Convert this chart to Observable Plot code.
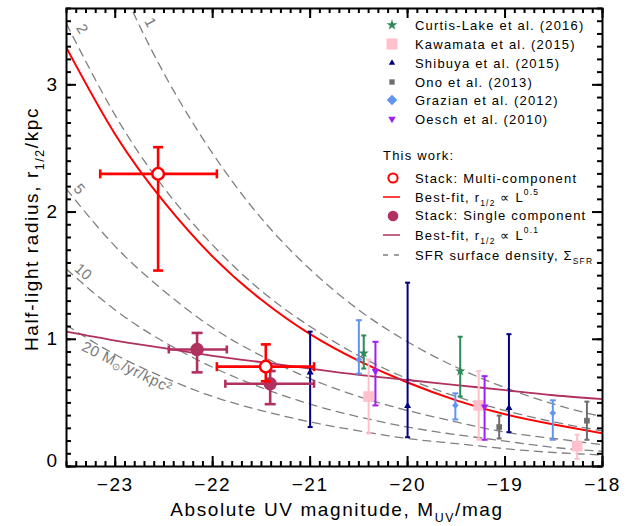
<!DOCTYPE html>
<html>
<head>
<meta charset="utf-8">
<script src="https://cdn.jsdelivr.net/npm/d3@7"></script>
<script src="https://cdn.jsdelivr.net/npm/@observablehq/plot@0.6"></script>
<style>
html,body{margin:0;padding:0;background:#fff;}
#chart svg{display:block;}
</style>
</head>
<body>
<div id="chart"></div>
<script>
const FONT = "'Liberation Sans', Arial, Helvetica, sans-serif";

// ---- axis ticks ----
const xMajorTicks = [-23, -22, -21, -20, -19, -18];
const yMajorTicks = [0, 1, 2, 3];

// ---- curves (at these magnitudes) ----
const curveMag   = [-23.5,-23,-22.5,-22,-21.5,-21,-20.5,-20,-19.5,-19,-18.5,-18];
const fitMultiR  = [3.29,2.61,2.08,1.65,1.31,1.04,0.83,0.66,0.52,0.41,0.33,0.26];
const fitSingleR = [1.06,0.99,0.93,0.87,0.82,0.77,0.72,0.68,0.64,0.60,0.56,0.53];
const sfrLevels  = [1, 2, 5, 10, 20];
const sfr1R  = [4.90,3.89,3.09,2.46,1.95,1.55,1.23,0.98,0.78,0.62,0.49,0.39];
const sfr2R  = [3.48,2.76,2.19,1.74,1.38,1.10,0.87,0.69,0.55,0.44,0.35,0.28];
const sfr5R  = [2.18,1.73,1.38,1.09,0.87,0.69,0.55,0.44,0.35,0.27,0.22,0.17];
const sfr10R = [1.55,1.23,0.98,0.78,0.62,0.49,0.39,0.31,0.25,0.20,0.15,0.12];
const sfr20R = [1.11,0.88,0.70,0.55,0.44,0.35,0.28,0.22,0.18,0.14,0.11,0.09];
const sfrLabelText  = ["1", "2", "5", "10", "20 M⊙/yr/kpc²"];
const sfrLabelMag   = [-22.64, -23.34, -23.37, -23.33, -22.88];
const sfrLabelR     = [3.49, 3.44, 2.18, 1.53, 0.78];
const sfrLabelAngle = [62, 60, 50, 41, 26];

// ---- This work ----
const multiM   = [-22.56, -21.455];
const multiR   = [2.30, 0.785];
const multiRLo = [1.54, 0.67];
const multiRHi = [2.51, 0.96];
const multiMLo = [-23.154, -21.957];
const multiMHi = [-21.957, -20.96];

const singleM   = [-22.16, -21.41];
const singleR   = [0.92, 0.65];
const singleRLo = [0.74, 0.49];
const singleRHi = [1.05, 0.75];
const singleMLo = [-22.45, -21.87];
const singleMHi = [-21.855, -20.96];

// ---- literature ----
const curtisM = [-20.45, -19.46];
const curtisR = [0.89, 0.75];
const curtisLo = [0.77, 0.55];
const curtisHi = [1.03, 1.02];

const kawamataM = [-20.40, -19.27, -18.26];
const kawamataR = [0.55, 0.48, 0.16];
const kawamataLo = [0.26, 0.21, 0.06];
const kawamataHi = [0.84, 0.75, 0.25];

const shibuyaM = [-21.0, -20.0, -18.96];
const shibuyaR = [0.74, 0.475, 0.46];
const shibuyaLo = [0.31, 0.23, 0.27];
const shibuyaHi = [1.06, 1.445, 1.04];

const onoM = [-19.06, -18.16];
const onoR = [0.31, 0.36];
const onoLo = [0.22, 0.21];
const onoHi = [0.40, 0.51];

const grazianM = [-20.50, -19.51, -18.51];
const grazianR = [0.84, 0.48, 0.42];
const grazianLo = [0.73, 0.37, 0.21];
const grazianHi = [1.15, 0.575, 0.52];

const oeschM = [-20.33, -19.21];
const oeschR = [0.75, 0.47];
const oeschLo = [0.48, 0.21];
const oeschHi = [0.98, 0.71];

// ---- colours ----
const RED = "#FF0000", MAROON = "#B03060", GREEN = "#2E8B57", PINK = "#FFC0CB",
      NAVY = "#000080", GRAY = "#6E6E6E", CORN = "#6495ED", PURPLE = "#A020F0", DASH = "#808080";

// ---- tables built from the arrays ----
const rows = (M, R, lo, hi, mlo, mhi) => M.map((m, i) => ({M: m, r: R[i], lo: lo[i], hi: hi[i], mlo: mlo ? mlo[i] : null, mhi: mhi ? mhi[i] : null}));
const curve = R => curveMag.map((m, i) => ({M: m, r: R[i]}));
const sfrCurves = [sfr1R, sfr2R, sfr5R, sfr10R, sfr20R];
const sfrRows = sfrLevels.flatMap((lv, k) => curveMag.map((m, i) => ({M: m, r: sfrCurves[k][i], level: lv})));
const sfrLabels = sfrLabelText.map((t, i) => ({text: t, M: sfrLabelMag[i], r: sfrLabelR[i], a: sfrLabelAngle[i]}));

const xMinor = d3.range(-235, -179).map(d => d / 10);
const yMinor = d3.range(0, 37).map(d => d / 10);

const capH = w => ({draw(ctx) { ctx.moveTo(-w / 2, 0); ctx.lineTo(w / 2, 0); }});
const capV = w => ({draw(ctx) { ctx.moveTo(0, -w / 2); ctx.lineTo(0, w / 2); }});

function vErr(data, color, sw, cw) {
  return [
    Plot.ruleX(data, {x: "M", y1: "lo", y2: "hi", stroke: color, strokeWidth: sw}),
    Plot.dot(data, {x: "M", y: "lo", symbol: capH(cw), stroke: color, strokeWidth: sw, fill: "none"}),
    Plot.dot(data, {x: "M", y: "hi", symbol: capH(cw), stroke: color, strokeWidth: sw, fill: "none"})
  ];
}
function hErr(data, color, sw, cw) {
  return [
    Plot.ruleY(data, {y: "r", x1: "mlo", x2: "mhi", stroke: color, strokeWidth: sw}),
    Plot.dot(data, {x: "mlo", y: "r", symbol: capV(cw), stroke: color, strokeWidth: sw, fill: "none"}),
    Plot.dot(data, {x: "mhi", y: "r", symbol: capV(cw), stroke: color, strokeWidth: sw, fill: "none"})
  ];
}

const multiRows = rows(multiM, multiR, multiRLo, multiRHi, multiMLo, multiMHi);
const singleRows = rows(singleM, singleR, singleRLo, singleRHi, singleMLo, singleMHi);
const curtisRows = rows(curtisM, curtisR, curtisLo, curtisHi);
const kawaRows = rows(kawamataM, kawamataR, kawamataLo, kawamataHi);
const shibRows = rows(shibuyaM, shibuyaR, shibuyaLo, shibuyaHi);
const onoRows = rows(onoM, onoR, onoLo, onoHi);
const grazRows = rows(grazianM, grazianR, grazianLo, grazianHi);
const oeschRows = rows(oeschM, oeschR, oeschLo, oeschHi);

// frame geometry (pixels)
const W = 644, H = 526, ML = 66, MR = 42, MT = 8, MB = 60;
const PW = W - ML - MR, PH = H - MT - MB;

// inward ticks drawn as short rules inset from the opposite side of the frame
const TW = 2;
const ticksBottom = (t, len) => Plot.ruleX(t, {x: d => d, insetTop: PH - len, stroke: "black", strokeWidth: TW});
const ticksTop    = (t, len) => Plot.ruleX(t, {x: d => d, insetBottom: PH - len, stroke: "black", strokeWidth: TW});
const ticksLeft   = (t, len) => Plot.ruleY(t, {y: d => d, insetRight: PW - len, stroke: "black", strokeWidth: TW});
const ticksRight  = (t, len) => Plot.ruleY(t, {y: d => d, insetLeft: PW - len, stroke: "black", strokeWidth: TW});
const intFmt = d => String(d);

const plot = Plot.plot({
  width: W, height: H,
  marginLeft: ML, marginRight: MR, marginTop: MT, marginBottom: MB,
  x: {domain: [-23.5, -18]},
  y: {domain: [0, 3.6]},
  style: {fontFamily: FONT, background: "white", color: "black"},
  marks: [
    Plot.line(sfrRows, {x: "M", y: "r", z: "level", stroke: DASH, strokeWidth: 1.3, strokeDasharray: "8,6", curve: "natural", clip: true}),
    Plot.text(sfrLabels, {x: "M", y: "r", text: "text", rotate: "a", fill: "#7a7a7a", fontSize: 15}),
    Plot.line(curve(fitMultiR), {x: "M", y: "r", stroke: RED, strokeWidth: 2, curve: "natural", clip: true}),
    Plot.line(curve(fitSingleR), {x: "M", y: "r", stroke: MAROON, strokeWidth: 1.8, curve: "natural", clip: true}),

    ...vErr(kawaRows, PINK, 2, 5),
    Plot.dot(kawaRows, {x: "M", y: "r", symbol: "square", r: 6, fill: PINK}),
    ...vErr(grazRows, CORN, 2, 6),
    Plot.dot(grazRows, {x: "M", y: "r", symbol: "diamond2", r: 3, fill: CORN}),
    ...vErr(curtisRows, GREEN, 2, 5),
    Plot.dot(curtisRows, {x: "M", y: "r", symbol: "star", r: 3.2, fill: GREEN}),
    ...vErr(oeschRows, PURPLE, 2, 6),
    Plot.dot(oeschRows, {x: "M", y: "r", symbol: "triangle", rotate: 180, r: 2.8, fill: PURPLE}),
    ...vErr(onoRows, GRAY, 2, 5),
    Plot.dot(onoRows, {x: "M", y: "r", symbol: "square", r: 3.2, fill: GRAY}),
    ...vErr(shibRows, NAVY, 2, 5),
    Plot.dot(shibRows, {x: "M", y: "r", symbol: "triangle", r: 2.6, fill: NAVY}),

    ...vErr(singleRows, MAROON, 2.6, 11),
    ...hErr(singleRows, MAROON, 2.6, 8),
    Plot.dot(singleRows, {x: "M", y: "r", r: 6.7, fill: MAROON}),
    ...vErr(multiRows, RED, 2.6, 10),
    ...hErr(multiRows, RED, 2.6, 9),
    Plot.dot(multiRows, {x: "M", y: "r", r: 5.8, fill: "white", stroke: RED, strokeWidth: 2.5}),

    ticksBottom(xMinor, 5), ticksBottom(xMajorTicks, 10),
    ticksTop(xMinor, 5), ticksTop(xMajorTicks, 10),
    ticksLeft(yMinor, 5), ticksLeft(yMajorTicks, 10),
    ticksRight(yMinor, 5), ticksRight(yMajorTicks, 10),
    Plot.axisX(xMajorTicks, {anchor: "bottom", tickSize: 0, tickPadding: 11, fontSize: 19, label: null}),
    Plot.axisY(yMajorTicks.filter(d => d > 0), {anchor: "left", tickSize: 0, tickPadding: 8, fontSize: 19, label: null, tickFormat: intFmt}),
    Plot.axisY(yMajorTicks.filter(d => d === 0), {anchor: "left", tickSize: 0, tickPadding: 8, fontSize: 19, label: null, dy: -6, tickFormat: intFmt}),
    Plot.frame({stroke: "black", strokeWidth: 2})
  ]
});

document.getElementById("chart").append(plot);
const svg = d3.select(plot);

// letter spacing of tick labels (IDL font is wide)
svg.selectAll("g[aria-label='x-axis tick label'], g[aria-label='y-axis tick label']").attr("letter-spacing", "1.5px");

// subscript sun symbol in the 20 Msun label
svg.selectAll("text").filter(function() { return this.textContent === "20 M⊙/yr/kpc²"; })
  .attr("letter-spacing", "0.6px")
  .each(function() {
    const t = d3.select(this);
    t.text(null);
    t.append("tspan").text("20 M");
    t.append("tspan").text("⊙").attr("font-size", 10).attr("dy", 3);
    t.append("tspan").text("/yr/kpc²").attr("dy", -3);
  });

// rich text helper
function rich(sel, parts, fs) {
  let shift = 0;
  for (const p of parts) {
    const target = p.sub ? 0.3 * fs : p.sup ? -0.5 * fs : 0;
    const ts = sel.append("tspan").text(p.t).attr("dy", target - shift);
    if (p.sub || p.sup) ts.attr("font-size", fs * 0.65);
    shift = target;
  }
}

const g = svg.append("g").attr("font-family", FONT).attr("text-anchor", "start").attr("fill", "black");

// axis titles
const xt = g.append("text").attr("x", 337).attr("y", 516).attr("text-anchor", "middle")
  .attr("font-size", 19).attr("letter-spacing", "1.6px");
rich(xt, [{t: "Absolute UV magnitude, M"}, {t: "UV", sub: true}, {t: "/mag"}], 19);
const yt = g.append("text").attr("transform", "translate(38,229) rotate(-90)").attr("text-anchor", "middle")
  .attr("font-size", 19).attr("letter-spacing", "1.6px");
rich(yt, [{t: "Half-light radius, r"}, {t: "1/2", sub: true}, {t: "/kpc"}], 19);

// legend
const LFS = 13;
const legLit = [
  {label: "Curtis-Lake et al. (2016)", sym: d3.symbolStar, r: 3.4, fill: GREEN},
  {label: "Kawamata et al. (2015)", sym: d3.symbolSquare, r: 6.2, fill: PINK},
  {label: "Shibuya et al. (2015)", sym: d3.symbolTriangle, r: 2.4, fill: NAVY},
  {label: "Ono et al. (2013)", sym: d3.symbolSquare, r: 3.0, fill: GRAY},
  {label: "Grazian et al. (2012)", sym: d3.symbolDiamond2, r: 4.8, fill: CORN},
  {label: "Oesch et al. (2010)", sym: d3.symbolTriangle, r: 2.8, fill: PURPLE, rot: 180}
];
const legY = [25, 44, 63, 82, 100, 119];
legLit.forEach((d, i) => {
  g.append("path").attr("d", d3.symbol(d.sym, Math.PI * d.r * d.r)())
    .attr("transform", `translate(392,${legY[i]}) rotate(${d.rot || 0})`).attr("fill", d.fill);
  g.append("text").attr("x", 415).attr("y", legY[i] + 4.6).attr("font-size", LFS)
    .attr("letter-spacing", "1.2px").text(d.label);
});

g.append("text").attr("x", 383).attr("y", 155.5 + 4.6).attr("font-size", LFS).attr("letter-spacing", "1.2px").text("This work:");
// multi-component
g.append("circle").attr("cx", 393).attr("cy", 178).attr("r", 4.6).attr("fill", "white").attr("stroke", RED).attr("stroke-width", 2);
g.append("text").attr("x", 415).attr("y", 178 + 4.6).attr("font-size", LFS).attr("letter-spacing", "1.2px").text("Stack: Multi-component");
g.append("line").attr("x1", 383).attr("x2", 400).attr("y1", 197).attr("y2", 197).attr("stroke", RED).attr("stroke-width", 1.5);
rich(g.append("text").attr("x", 415).attr("y", 197 + 4.6).attr("font-size", LFS).attr("letter-spacing", "1.2px"),
  [{t: "Best-fit, r"}, {t: "1/2", sub: true}, {t: " ∝ L"}, {t: "0.5", sup: true}], LFS);
// single component
g.append("circle").attr("cx", 393).attr("cy", 216).attr("r", 5.3).attr("fill", MAROON);
g.append("text").attr("x", 415).attr("y", 215 + 4.6).attr("font-size", LFS).attr("letter-spacing", "1.2px").text("Stack: Single component");
g.append("line").attr("x1", 383).attr("x2", 400).attr("y1", 235).attr("y2", 235).attr("stroke", MAROON).attr("stroke-width", 1.5);
rich(g.append("text").attr("x", 415).attr("y", 235 + 4.6).attr("font-size", LFS).attr("letter-spacing", "1.2px"),
  [{t: "Best-fit, r"}, {t: "1/2", sub: true}, {t: " ∝ L"}, {t: "0.1", sup: true}], LFS);
// SFR surface density
g.append("line").attr("x1", 383).attr("x2", 400).attr("y1", 255).attr("y2", 255).attr("stroke", DASH).attr("stroke-width", 1.3).attr("stroke-dasharray", "5,6");
rich(g.append("text").attr("x", 415).attr("y", 255 + 4.6).attr("font-size", LFS).attr("letter-spacing", "1.2px"),
  [{t: "SFR surface density, Σ"}, {t: "SFR", sub: true}], LFS);
</script>
</body>
</html>
